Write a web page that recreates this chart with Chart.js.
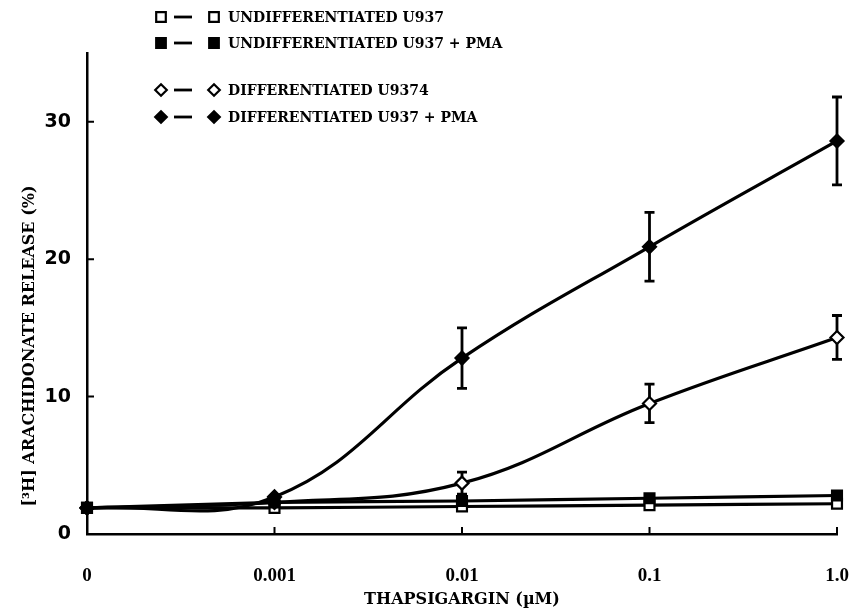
<!DOCTYPE html>
<html>
<head>
<meta charset="utf-8">
<title>Thapsigargin arachidonate release</title>
<script src="https://cdn.jsdelivr.net/npm/chart.js@4.4.1/dist/chart.umd.min.js"></script>
<style>
  html, body { margin: 0; padding: 0; background: #fff; }
  #chart { display: block; }
</style>
</head>
<body>
<canvas id="chart" width="859" height="610"></canvas>
<script>
// thapsigargin doses (uM), shown as evenly spaced categories
const doseLabels = ['0', '0.001', '0.01', '0.1', '1.0'];
const yTicks = [0, 10, 20, 30];

// [3H] arachidonate release (%)
const undiffU937 = [1.9, 1.9, 2.0, 2.1, 2.2];
const undiffU937Pma = [1.9, 2.3, 2.4, 2.6, 2.8];
const diffU937 = [1.9, 2.3, 3.7, 9.5, 14.3];
const diffU937Err = [0, 0, 0.8, 1.4, 1.6];
const diffU937Pma = [1.9, 2.7, 12.8, 20.9, 28.6];
const diffU937PmaErr = [0, 0, 2.2, 2.5, 3.2];

const LEGEND_FONT = 'bold 14px "DejaVu Serif"';
const TITLE_FONT = 'bold 16px "DejaVu Serif"';

function series(label, data, style, filled, tension, order, errors) {
    return {
        label: label,
        data: data,
        errors: errors,
        order: order,
        markerStyle: style,
        markerFilled: filled,
        borderColor: '#000',
        borderWidth: 3.2,
        tension: tension,
        fill: false,
        clip: false,
        pointStyle: style === 'rect' ? 'rect' : 'rectRot',
        pointRadius: style === 'rect' ? 7 : 6.5,
        pointBackgroundColor: filled ? '#000' : '#fff',
        pointBorderColor: '#000',
        pointBorderWidth: 2.2
    };
}

function drawMarker(ctx, style, filled, x, y, r) {
    ctx.beginPath();
    if (style === 'rect') {
        ctx.rect(x - r, y - r, 2 * r, 2 * r);
    } else {
        ctx.moveTo(x, y - r);
        ctx.lineTo(x + r, y);
        ctx.lineTo(x, y + r);
        ctx.lineTo(x - r, y);
        ctx.closePath();
    }
    ctx.fillStyle = filled ? '#000' : '#fff';
    ctx.fill();
    ctx.lineWidth = 2.2;
    ctx.strokeStyle = '#000';
    ctx.stroke();
}

// legend: marker - dash - marker, then the label
const legendPlugin = {
    id: 'legendRows',
    afterDraw(chart) {
        const ctx = chart.ctx;
        const rows = [17, 43, 90, 117];
        ctx.save();
        chart.data.datasets.forEach((ds, i) => {
            const y = rows[i];
            const r = ds.markerStyle === 'rect' ? 4.8 : 5.8;
            drawMarker(ctx, ds.markerStyle, ds.markerFilled, 161, y, r);
            ctx.beginPath();
            ctx.moveTo(174, y);
            ctx.lineTo(192, y);
            ctx.lineWidth = 2.8;
            ctx.strokeStyle = '#000';
            ctx.stroke();
            drawMarker(ctx, ds.markerStyle, ds.markerFilled, 214, y, r);
            ctx.fillStyle = '#000';
            ctx.font = LEGEND_FONT;
            ctx.textAlign = 'left';
            ctx.textBaseline = 'middle';
            ctx.fillText(ds.label, 228, y + 1);
        });
        ctx.restore();
    }
};

// vertical error bars with caps, under the lines and markers
const errorBarPlugin = {
    id: 'errorBars',
    beforeDatasetsDraw(chart) {
        const ctx = chart.ctx;
        const x = chart.scales.x, y = chart.scales.y;
        ctx.save();
        ctx.strokeStyle = '#000';
        ctx.lineWidth = 2.8;
        chart.data.datasets.forEach(ds => {
            if (!ds.errors) return;
            ds.data.forEach((v, i) => {
                const e = ds.errors[i];
                if (!e) return;
                const px = x.getPixelForValue(i);
                const top = y.getPixelForValue(v + e);
                const bot = y.getPixelForValue(v - e);
                ctx.beginPath();
                ctx.moveTo(px, top);
                ctx.lineTo(px, bot);
                ctx.moveTo(px - 5, top);
                ctx.lineTo(px + 5, top);
                ctx.moveTo(px - 5, bot);
                ctx.lineTo(px + 5, bot);
                ctx.stroke();
            });
        });
        ctx.restore();
    }
};

// inward tick marks and both axis titles
const axisDecorPlugin = {
    id: 'axisDecor',
    afterDraw(chart) {
        const ctx = chart.ctx;
        const area = chart.chartArea;
        const x = chart.scales.x, y = chart.scales.y;
        ctx.save();
        ctx.strokeStyle = '#000';
        ctx.lineWidth = 2;
        ctx.beginPath();
        doseLabels.forEach((lab, i) => {
            if (i === 0) return;
            const px = x.getPixelForValue(i);
            ctx.moveTo(px, area.bottom);
            ctx.lineTo(px, area.bottom - 7);
        });
        yTicks.forEach(v => {
            if (v === 0) return;
            const py = y.getPixelForValue(v);
            ctx.moveTo(area.left, py);
            ctx.lineTo(area.left + 7, py);
        });
        ctx.stroke();

        ctx.fillStyle = '#000';
        ctx.font = TITLE_FONT;
        ctx.textAlign = 'center';
        ctx.textBaseline = 'middle';
        ctx.fillText('THAPSIGARGIN (\u00b5M)', (area.left + area.right) / 2, 600);

        ctx.translate(30, 346);
        ctx.rotate(-Math.PI / 2);
        ctx.fillText('[\u00b3H] ARACHIDONATE RELEASE (%)', 0, 0);
        ctx.restore();
    }
};

const ctx = document.getElementById('chart').getContext('2d');
new Chart(ctx, {
    type: 'line',
    data: {
        labels: doseLabels,
        datasets: [
            series('UNDIFFERENTIATED U937', undiffU937, 'rect', false, 0.1, 3),
            series('UNDIFFERENTIATED U937 + PMA', undiffU937Pma, 'rect', true, 0.1, 1),
            series('DIFFERENTIATED U9374', diffU937, 'diamond', false, 0.4, 2, diffU937Err),
            series('DIFFERENTIATED U937 + PMA', diffU937Pma, 'diamond', true, 0.4, 0, diffU937PmaErr)
        ]
    },
    options: {
        responsive: false,
        animation: false,
        layout: { autoPadding: false, padding: { top: 53, right: 22, left: 0, bottom: 0 } },
        plugins: {
            legend: { display: false },
            tooltip: { enabled: false }
        },
        scales: {
            x: {
                type: 'category',
                offset: false,
                grid: { display: false, drawTicks: false },
                border: { display: true, color: '#000', width: 2.5 },
                ticks: {
                    color: '#000',
                    padding: 31,
                    maxRotation: 0,
                    font: { family: 'Liberation Serif', weight: 'bold', size: 19 }
                },
                afterFit(scale) {
                    scale.height = 76;
                    // the label gap is vertical only; keep it out of the side padding
                    scale.paddingLeft = 0;
                    scale.paddingRight = 0;
                }
            },
            y: {
                min: 0,
                max: 35,
                grid: { display: false, drawTicks: false },
                border: { display: true, color: '#000', width: 2.5 },
                ticks: {
                    color: '#000',
                    padding: 16,
                    font: { family: 'DejaVu Sans', weight: 'bold', size: 19 }
                },
                afterBuildTicks(scale) {
                    scale.ticks = yTicks.map(v => ({ value: v }));
                },
                afterFit(scale) { scale.width = 87; }
            }
        }
    },
    plugins: [errorBarPlugin, axisDecorPlugin, legendPlugin]
});
</script>
</body>
</html>
